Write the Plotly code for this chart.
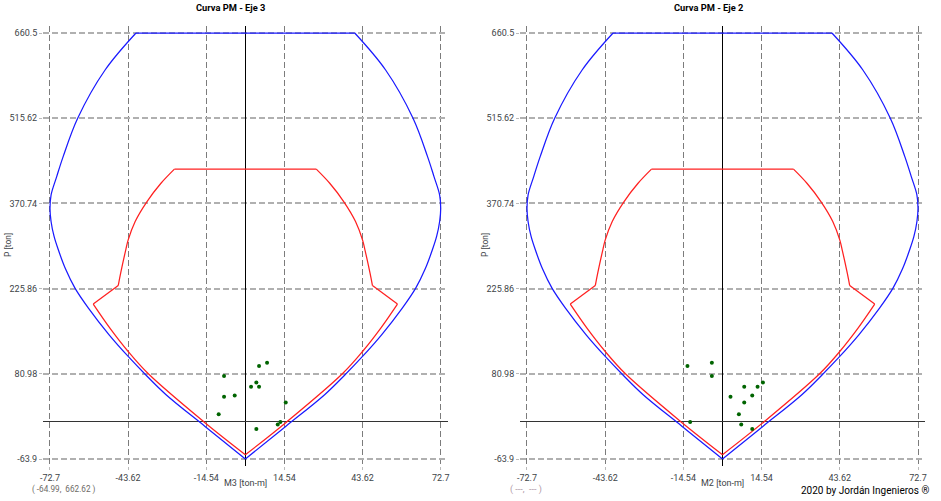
# plot.py - curvas de interaccion PM
import plotly.graph_objects as go

# nominal curve (blue), left half from top corner down to the tip
nom_m = [-40.7, -52.2, -62.4, -67.8, -70.2, -72.3, -72.7, -72.3, -71.2, -69.6, -66.9, -63.4, -58.4, -50.7, -43.6, -37.1, -29.5, -15.0, 0.0]
nom_p = [660.5, 597.6, 515.6, 450.3, 416.3, 385.0, 362.0, 340.0, 315.0, 291.8, 259.0, 226.7, 192.7, 147.3, 110.5, 79.4, 45.4, -8.5, -63.9]

# design curve (red), left half
des_up_m = [-26.4, -31.4, -36.6, -41.0, -43.6, -44.5, -46.4, -47.3]
des_up_p = [429.0, 405.0, 373.9, 340.0, 308.7, 291.8, 252.2, 231.1]
des_low_m = [-56.6, -50.4, -43.6, -36.1, -15.6, 0.0]
des_low_p = [199.5, 158.7, 118.9, 81.0, 0.0, -56.6]

# demand points
m3_pts = [-7.93, 8.08, 5.10, 4.10, 2.12, 5.10, -7.93, -3.96, 15.03, -9.92, 13.04, 12.05, 4.10]
p3_pts = [77.1, 99.8, 94.1, 66.3, 59.0, 59.0, 42.0, 44.2, 32.3, 12.0, -0.8, -5.1, -12.9]
m2_pts = [-13.03, -3.96, -3.96, 8.08, 13.04, 15.03, 11.06, 2.98, 8.08, 6.10, 6.96, 11.06, -12.03]
p2_pts = [94.1, 99.8, 77.1, 59.0, 59.0, 66.3, 44.2, 42.0, 32.3, 12.0, -5.1, -12.9, -0.8]

x_ticks = [-72.7, -43.62, -14.54, 14.54, 43.62, 72.7]
y_ticks = [-63.9, 80.98, 225.86, 370.74, 515.62, 660.5]

W, H = 941, 501
TEXT = "Roboto"
TICK_COLOR = "#404448"
BLUE = "#1a1aff"
RED = "#ff2020"

fig = go.Figure()


def curve(xs, ys, color, xa, ya, shape="spline"):
    fig.add_trace(go.Scatter(x=xs, y=ys, mode="lines", xaxis=xa, yaxis=ya,
                             line=dict(color=color, width=1.25, shape=shape, smoothing=1.0)))


panels = [
    ("x", "y", m3_pts, p3_pts),
    ("x2", "y2", m2_pts, p2_pts),
]
for xa, ya, pts_m, pts_p in panels:
    for side in (1, -1):
        # the section is symmetric, so each half is drawn from the same readings
        curve([side * v for v in nom_m], nom_p, BLUE, xa, ya)
        curve([side * v for v in des_up_m], des_up_p, RED, xa, ya)
        curve([side * v for v in des_low_m], des_low_p, RED, xa, ya)
        curve([side * des_up_m[-1], side * des_low_m[0]], [des_up_p[-1], des_low_p[0]], RED, xa, ya, "linear")
    curve([nom_m[0], -nom_m[0]], [nom_p[0], nom_p[0]], BLUE, xa, ya, "linear")
    curve([des_up_m[0], -des_up_m[0]], [des_up_p[0], des_up_p[0]], RED, xa, ya, "linear")
    fig.add_trace(go.Scatter(x=pts_m, y=pts_p, mode="markers", xaxis=xa, yaxis=ya,
                             marker=dict(color="#006400", size=4)))

x_axis = dict(
    range=[-75.3, 75.3], tickvals=x_ticks, ticktext=[str(v) for v in x_ticks],
    showgrid=True, gridcolor="#7c7c7c", griddash="6px,3px", gridwidth=1,
    zeroline=True, zerolinecolor="#000000", zerolinewidth=1.2,
    ticks="outside", ticklen=3, tickcolor="#bbbbbb",
    tickfont=dict(family=TEXT, size=9, color=TICK_COLOR),
    showline=False,
)
y_axis = dict(
    range=[-75.8, 672.4], tickvals=y_ticks, ticktext=[str(v) for v in y_ticks],
    showgrid=True, gridcolor="#b0b0b0", griddash="6px,3px", gridwidth=2,
    zeroline=True, zerolinecolor="#333333", zerolinewidth=1,
    ticks="outside", ticklen=3, tickcolor="#bbbbbb",
    tickfont=dict(family=TEXT, size=9, color=TICK_COLOR),
    showline=False,
)

fig.update_layout(
    width=W, height=H, showlegend=False,
    margin=dict(l=0, r=0, t=0, b=0, autoexpand=False),
    paper_bgcolor="white", plot_bgcolor="white",
    xaxis=dict(x_axis, domain=[43 / W, 447.7 / W], anchor="y"),
    yaxis=dict(y_axis, domain=[1 - 466 / H, 1 - 26 / H], anchor="x"),
    xaxis2=dict(x_axis, domain=[520 / W, 925 / W], anchor="y2"),
    yaxis2=dict(y_axis, domain=[1 - 466 / H, 1 - 26 / H], anchor="x2"),
)


def label(px, py, text, size=9, color=TICK_COLOR, bold=False, angle=0, anchor="center"):
    fig.add_annotation(
        x=px / W, y=1 - py / H, xref="paper", yref="paper", showarrow=False,
        text=f"<b>{text}</b>" if bold else text, textangle=angle, xanchor=anchor, yanchor="middle",
        font=dict(family=TEXT, size=size, color=color),
    )


label(230.5, 8, "Curva PM - Eje 3", size=9.3, color="#000000", bold=True)
label(708, 8, "Curva PM - Eje 2", size=9.3, color="#000000", bold=True)
label(245, 483, "M3 [ton-m]")
label(722, 483, "M2 [ton-m]")
label(8, 245, "P [ton]", size=8.5, angle=-90)
label(485, 245, "P [ton]", size=8.5, angle=-90)
label(30, 489, "( -64.99,  662.62 )", size=8.2, color="#6e6a66", anchor="left")
label(508, 489, "( ---,  --- )", color="#b09aa8", anchor="left")
label(931, 490, "2020 by Jordán Ingenieros ®", size=10, color="#000000", anchor="right")

fig.write_html("out.html", post_script="document.body.style.margin='0';",
               config={"displayModeBar": False})
